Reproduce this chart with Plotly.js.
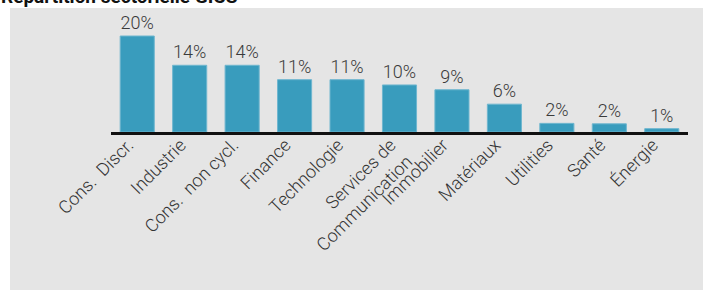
<!DOCTYPE html>
<html>
<head>
<meta charset="utf-8">
<script src="https://cdn.plot.ly/plotly-3.0.1.min.js"></script>
<style>
html,body{margin:0;padding:0;background:#fff;}
#chart{width:703px;height:290px;}
</style>
</head>
<body>
<div id="chart"></div>
<script>
const categories = ["Cons.  Discr.", "Industrie", "Cons.  non cycl.", "Finance", "Technologie", "Services de<br>Communication", "Immobilier", "Matériaux", "Utilities", "Santé", "Énergie"];
const values = [20.0, 13.9, 13.9, 10.9, 10.9, 9.8, 8.8, 5.8, 1.8, 1.7, 0.7];
const valueLabels = ["20%", "14%", "14%", "11%", "11%", "10%", "9%", "6%", "2%", "2%", "1%"];
const chartTitle = "Répartition sectorielle GICS";

const L = 111, R = 15, T = 20, B = 158, W = 703, H = 290;
const pw = W - L - R, ph = H - T - B;
const px = p => (p - L) / pw;
const py = p => (H - B - p) / ph;

const trace = {
  type: 'bar',
  x: categories,
  y: values,
  text: valueLabels,
  textposition: 'outside',
  cliponaxis: false,
  textfont: {family: 'Roboto', size: 18, color: '#3a3a3a', weight: 300},
  marker: {color: '#399cbd', line: {color: '#6fb6cf', width: 1}},
  hoverinfo: 'none'
};

const layout = {
  width: W, height: H,
  margin: {l: L, r: R, t: T, b: B, pad: 0},
  paper_bgcolor: '#ffffff',
  plot_bgcolor: 'rgba(0,0,0,0)',
  bargap: 0.35,
  showlegend: false,
  font: {family: 'Roboto', color: '#333'},
  xaxis: {
    type: 'category',
    range: [-0.5, 10.5],
    showline: true, linecolor: '#111', linewidth: 2.5,
    ticks: '', showgrid: false, zeroline: false,
    tickangle: -45,
    ticklabelshift: -9,
    ticklabelstandoff: -7,
    tickfont: {family: 'Roboto', size: 18, color: '#333', weight: 300}
  },
  yaxis: {
    range: [0, ph / 4.8],
    visible: false, showgrid: false, zeroline: false
  },
  shapes: [{
    type: 'rect', xref: 'paper', yref: 'paper', layer: 'below',
    x0: px(10), x1: px(703), y0: py(292), y1: py(8),
    fillcolor: '#e5e5e5', line: {width: 0}
  }],
  annotations: [{
    xref: 'paper', yref: 'paper', x: px(-1), y: py(-4),
    xanchor: 'left', yanchor: 'middle', showarrow: false,
    text: '<b>' + chartTitle + '</b>',
    font: {family: 'Roboto', size: 19, color: '#111'}
  }]
};

Plotly.newPlot('chart', [trace], layout, {displayModeBar: false, staticPlot: true});
</script>
</body>
</html>
